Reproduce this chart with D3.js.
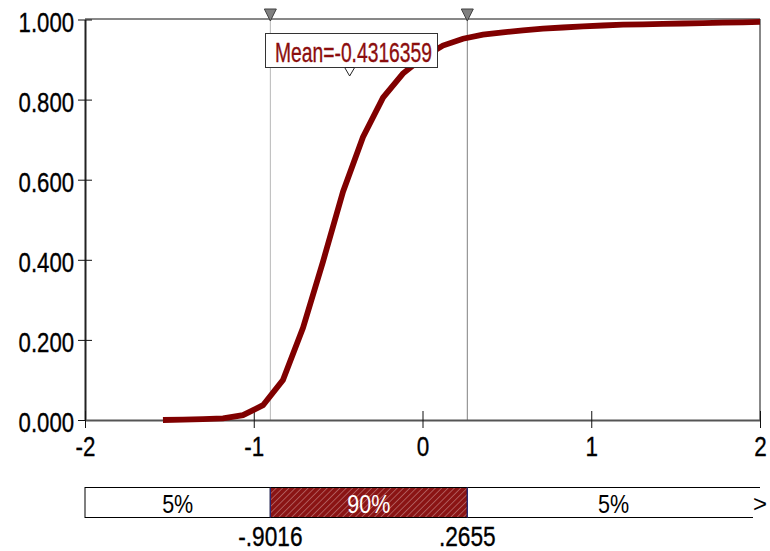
<!DOCTYPE html>
<html>
<head>
<meta charset="utf-8">
<script src="https://cdn.jsdelivr.net/npm/d3@7"></script>
<style>
  html, body { margin: 0; padding: 0; background: #fff; }
  svg { display: block; font-family: "Liberation Sans", Arial, sans-serif; }
  text { paint-order: stroke; }
</style>
</head>
<body>
<svg id="chart" width="770" height="551"></svg>
<script>
// Cumulative distribution (ascending) of the simulated output
const cdfX = [-1.538, -1.419, -1.301, -1.182, -1.064, -0.945, -0.827, -0.708, -0.590, -0.471,
              -0.353, -0.234, -0.116, 0.003, 0.121, 0.240, 0.358, 0.477, 0.595, 0.714,
              0.832, 0.951, 1.069, 1.188, 1.306, 1.425, 1.543, 1.662, 1.780, 1.899, 2.0];
const cdfP = [0.000, 0.001, 0.002, 0.004, 0.012, 0.037, 0.100, 0.230, 0.395, 0.570,
              0.706, 0.805, 0.865, 0.905, 0.935, 0.952, 0.962, 0.968, 0.973, 0.977,
              0.980, 0.983, 0.985, 0.987, 0.988, 0.989, 0.990, 0.991, 0.992, 0.993, 0.994];

const xTicks = [-2, -1, 0, 1, 2];
const yTicks = [0, 0.2, 0.4, 0.6, 0.8, 1.0];

const meanValue = -0.4316359;
const lowerBound = -0.9016;
const upperBound = 0.2655;
const bandLabels = ["5%", "90%", "5%"];
const boundLabels = ["-.9016", ".2655"];

const svg = d3.select("#chart");
const plotLeft = 85, plotRight = 760, plotTop = 19.5, plotBottom = 420;

const x = d3.scaleLinear().domain([-2, 2]).range([plotLeft, plotRight]);
const y = d3.scaleLinear().domain([0, 1]).range([plotBottom, plotTop]);

// squeeze text horizontally to a narrow face
function squeeze(sel, k) {
  sel.each(function () {
    const w = this.getComputedTextLength();
    this.setAttribute("textLength", (w * k).toFixed(1));
    this.setAttribute("lengthAdjust", "spacingAndGlyphs");
  });
}

// hatch pattern for the central band
const defs = svg.append("defs");
const pat = defs.append("pattern")
  .attr("id", "hatch").attr("patternUnits", "userSpaceOnUse")
  .attr("width", 4.5).attr("height", 4.5)
  .attr("patternTransform", "rotate(45)");
pat.append("rect").attr("width", 4.5).attr("height", 4.5).attr("fill", "#8a1414");
pat.append("line").attr("x1", 0).attr("y1", 0).attr("x2", 0).attr("y2", 4.5)
  .attr("stroke", "#d9a8a8").attr("stroke-width", 0.9);

// plot frame (top and right)
svg.append("line").attr("x1", plotLeft).attr("x2", plotRight).attr("y1", 19).attr("y2", 19)
  .attr("stroke", "#111").attr("stroke-width", 1);
svg.append("line").attr("x1", plotRight).attr("x2", plotRight).attr("y1", 19).attr("y2", plotBottom)
  .attr("stroke", "#111").attr("stroke-width", 1);

// percentile marker lines
svg.append("line").attr("x1", x(lowerBound)).attr("x2", x(lowerBound))
  .attr("y1", 19).attr("y2", plotBottom).attr("stroke", "#b8b8b8").attr("stroke-width", 1);
svg.append("line").attr("x1", x(upperBound)).attr("x2", x(upperBound))
  .attr("y1", 19).attr("y2", plotBottom).attr("stroke", "#808080").attr("stroke-width", 1);

// y axis
const yAxis = svg.append("g").attr("transform", `translate(${plotLeft},0)`)
  .call(d3.axisLeft(y).tickValues(yTicks).tickFormat(d3.format(".3f")).tickSizeOuter(0).tickPadding(10));
yAxis.select(".domain").attr("stroke", "#222").attr("stroke-width", 2);
yAxis.selectAll(".tick line").attr("x1", -7).attr("x2", 7).attr("stroke", "#111");
yAxis.selectAll(".tick text").attr("font-size", 28).attr("fill", "#000")
  .attr("stroke", "#000").attr("stroke-width", 0.35)
  .attr("font-family", "Liberation Sans, Arial, sans-serif")
  .attr("x", -11).attr("dy", "0.42em");
squeeze(yAxis.selectAll(".tick text"), 0.79);

// x axis (plain hyphen for negatives)
const xAxis = svg.append("g").attr("transform", `translate(0,${plotBottom})`)
  .call(d3.axisBottom(x).tickValues(xTicks).tickFormat(d => String(d)).tickSizeOuter(0).tickPadding(14));
xAxis.select(".domain").attr("stroke", "#555").attr("stroke-width", 2.2);
xAxis.selectAll(".tick line").attr("y1", -9).attr("y2", 8).attr("stroke", "#111");
xAxis.selectAll(".tick text").attr("font-size", 28).attr("fill", "#000")
  .attr("stroke", "#000").attr("stroke-width", 0.35)
  .attr("font-family", "Liberation Sans, Arial, sans-serif").attr("y", 16).attr("dy", "0.71em");
squeeze(xAxis.selectAll(".tick text"), 0.8);

// cumulative curve
const pts = cdfX.map((v, i) => [v, cdfP[i]]);
svg.append("path").datum(pts)
  .attr("d", d3.line().x(d => x(d[0])).y(d => y(d[1])))
  .attr("fill", "none").attr("stroke", "#800000").attr("stroke-width", 5.8)
  .attr("stroke-linejoin", "miter");

// top markers
[lowerBound, upperBound].forEach(v => {
  const cx = x(v);
  svg.append("path")
    .attr("d", `M${cx - 6},9 L${cx + 6},9 L${cx},21 Z`)
    .attr("fill", "#808080").attr("stroke", "#404040").attr("stroke-width", 1);
});

// mean label
const mx = x(meanValue);
svg.append("rect").attr("x", 265.5).attr("y", 33.5).attr("width", 172).attr("height", 34)
  .attr("fill", "#fff").attr("stroke", "#333").attr("stroke-width", 1);
svg.append("text").attr("x", 353.5).attr("y", 62).attr("text-anchor", "middle")
  .attr("font-size", 28).attr("fill", "#8b0d0d")
  .attr("stroke", "#8b0d0d").attr("stroke-width", 0.35)
  .attr("textLength", 157).attr("lengthAdjust", "spacingAndGlyphs")
  .text("Mean=" + meanValue);
svg.append("path")
  .attr("d", `M${mx - 5},67.5 L${mx + 5},67.5 L${mx},76 Z`)
  .attr("fill", "#fff").attr("stroke", "#222").attr("stroke-width", 1);

// probability band
const bandTop = 487.5, bandBot = 517.5;
const xl = x(lowerBound), xu = x(upperBound);
svg.append("rect").attr("x", plotLeft).attr("y", bandTop).attr("width", xl - plotLeft).attr("height", bandBot - bandTop)
  .attr("fill", "#fff").attr("stroke", "#000").attr("stroke-width", 1);
svg.append("rect").attr("x", xl).attr("y", bandTop).attr("width", xu - xl).attr("height", bandBot - bandTop)
  .attr("fill", "url(#hatch)").attr("stroke", "#000").attr("stroke-width", 1);
svg.append("line").attr("x1", xu).attr("x2", plotRight).attr("y1", bandTop).attr("y2", bandTop)
  .attr("stroke", "#000").attr("stroke-width", 1);
svg.append("line").attr("x1", xu).attr("x2", 753).attr("y1", bandBot).attr("y2", bandBot)
  .attr("stroke", "#000").attr("stroke-width", 1);
[xl, xu].forEach(v => {
  svg.append("line").attr("x1", v).attr("x2", v).attr("y1", bandTop).attr("y2", bandBot)
    .attr("stroke", "#2b2b7a").attr("stroke-width", 1.2);
});
svg.append("text").attr("x", 760).attr("y", 512).attr("text-anchor", "middle")
  .attr("font-size", 24).attr("fill", "#000").text(">");

const bandCenters = [(plotLeft + xl) / 2, (xl + xu) / 2, (xu + plotRight) / 2];
const bandText = svg.selectAll(".band-label").data(bandLabels).join("text")
  .attr("class", "band-label")
  .attr("x", (d, i) => bandCenters[i]).attr("y", 513).attr("text-anchor", "middle")
  .attr("font-size", 25).attr("fill", (d, i) => i === 1 ? "#fff" : "#000")
  .text(d => d);
squeeze(bandText, 0.86);

const boundText = svg.selectAll(".bound-label").data(boundLabels).join("text")
  .attr("class", "bound-label")
  .attr("x", (d, i) => i === 0 ? xl : xu).attr("y", 546).attr("text-anchor", "middle")
  .attr("font-size", 28).attr("fill", "#000")
  .attr("stroke", "#000").attr("stroke-width", 0.35)
  .text(d => d);
squeeze(boundText, 0.81);
</script>
</body>
</html>
